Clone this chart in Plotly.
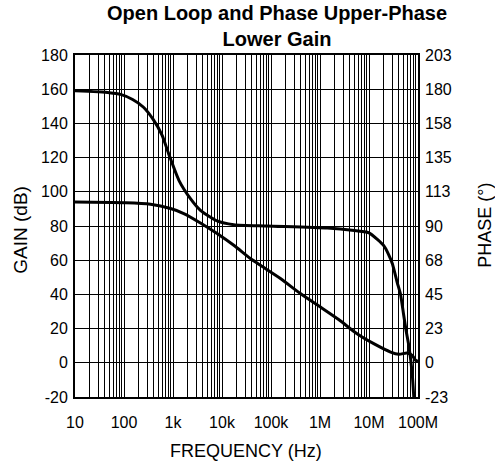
import plotly.graph_objects as go

# ---- data ----
gain_freq = [10, 100, 347, 890, 1660, 3630, 7940, 17400, 38000, 61000, 156000, 398000,
             1.02e6, 2.4e6, 5.7e6, 12.5e6, 27.6e6, 40.7e6, 60e6, 76e6, 89e6, 100e6]
gain_db = [94, 93.6, 92.7, 90.2, 87.3, 81.8, 75.6, 68.7, 61, 57, 49.3, 40.5,
           32.6, 25.3, 17, 11.2, 6.3, 5, 5.7, 4.4, 1.5, 0.8]

phase_freq = [10, 50, 85, 150, 250, 400, 600, 810, 1320, 2270, 3630, 7940, 17400, 83000,
              1.41e6, 4.5e6, 10e6, 15e6, 20e6, 25e6, 30e6, 37.7e6, 44e6, 51e6, 57e6, 65e6,
              76e6, 82e6]
phase_deg = [179.7, 178.5, 177.4, 174.0, 168.9, 160.5, 150.3, 138.4, 120.6, 108.5, 100.8,
             93.8, 91.3, 90.4, 89.0, 87.6, 85.9, 81.4, 77.4, 71.7, 65.5, 53.0, 45.2, 31.6,
             21.5, 11.3, -6.8, -22.6]

freq_tick_labels = ["10", "100", "1k", "10k", "100k", "1M", "10M", "100M"]
gain_ticks = [-20, 0, 20, 40, 60, 80, 100, 120, 140, 160, 180]
gain_tick_labels = ["-20", "0", "20", "40", "60", "80", "100", "120", "140", "160", "180"]
phase_tick_labels = ["-23", "0", "23", "45", "68", "90", "113", "135", "158", "180", "203"]
phase_range = [-22.6, 203.4]

FONT = "Arial, Liberation Sans, Helvetica, sans-serif"

# log grid positions: 1..9 x each decade
decades = [10 ** k for k in range(1, 9)]
grid_vals, grid_text = [], []
for i, d in enumerate(decades):
    for m in range(1, 10):
        v = d * m
        if v > 1e8:
            break
        grid_vals.append(v)
        grid_text.append(freq_tick_labels[i] if m == 1 else "")

phase_step = (phase_range[1] - phase_range[0]) / (len(phase_tick_labels) - 1)
phase_tickvals = [phase_range[0] + k * phase_step for k in range(len(phase_tick_labels))]

fig = go.Figure()
fig.add_trace(go.Scatter(x=gain_freq, y=gain_db, mode="lines",
                         line=dict(color="black", width=3, shape="spline", smoothing=0.8),
                         showlegend=False, hoverinfo="skip"))
fig.add_trace(go.Scatter(x=phase_freq, y=phase_deg, mode="lines", yaxis="y2",
                         line=dict(color="black", width=3, shape="spline", smoothing=0.6),
                         showlegend=False, hoverinfo="skip"))

fig.update_layout(
    width=495, height=463,
    margin=dict(l=75, r=77, t=55, b=66),
    paper_bgcolor="white", plot_bgcolor="white",
    font=dict(family=FONT, size=16, color="black"),
    xaxis=dict(type="log", range=[1, 8], tickvals=grid_vals, ticktext=grid_text,
               showgrid=True, gridcolor="black", gridwidth=1, ticks="",
               showline=True, linecolor="black", linewidth=2, mirror=True,
               zeroline=False, ticklabelstandoff=10,
               tickfont=dict(size=16)),
    yaxis=dict(range=[-20, 180], tickvals=gain_ticks, ticktext=gain_tick_labels,
               showgrid=True, gridcolor="black",
               gridwidth=1, ticks="", showline=True, linecolor="black", linewidth=2,
               mirror=True, zeroline=False, tickfont=dict(size=16), ticklabelstandoff=2),
    yaxis2=dict(range=phase_range, overlaying="y", side="right", tickvals=phase_tickvals,
                ticktext=phase_tick_labels, showgrid=False, ticks="", zeroline=False,
                showline=False, tickfont=dict(size=16), ticklabelstandoff=6),
)

def px2paper(px, py):
    return (px - 75) / 343.0, (397.5 - py) / 342.5

annots = [
    ("<b>Open Loop and Phase Upper-Phase<br>Lower Gain</b>", 277, 26, 0, 20),
    ("FREQUENCY (Hz)", 246, 452, 0, 18),
    ("GAIN (dB)", 21, 230, -90, 19),
    ("PHASE (°)", 485, 226, -90, 18),
]
for text, px, py, ang, sz in annots:
    ax, ay = px2paper(px, py)
    fig.add_annotation(text=text, x=ax, y=ay, xref="paper", yref="paper",
                       showarrow=False, textangle=ang, xanchor="center", yanchor="middle",
                       align="center",
                       font=dict(family=FONT, size=sz, color="black"))

fig.write_html("out.html", config={"displayModeBar": False},
               post_script="document.body.style.margin='0';document.body.style.overflow='hidden';")
